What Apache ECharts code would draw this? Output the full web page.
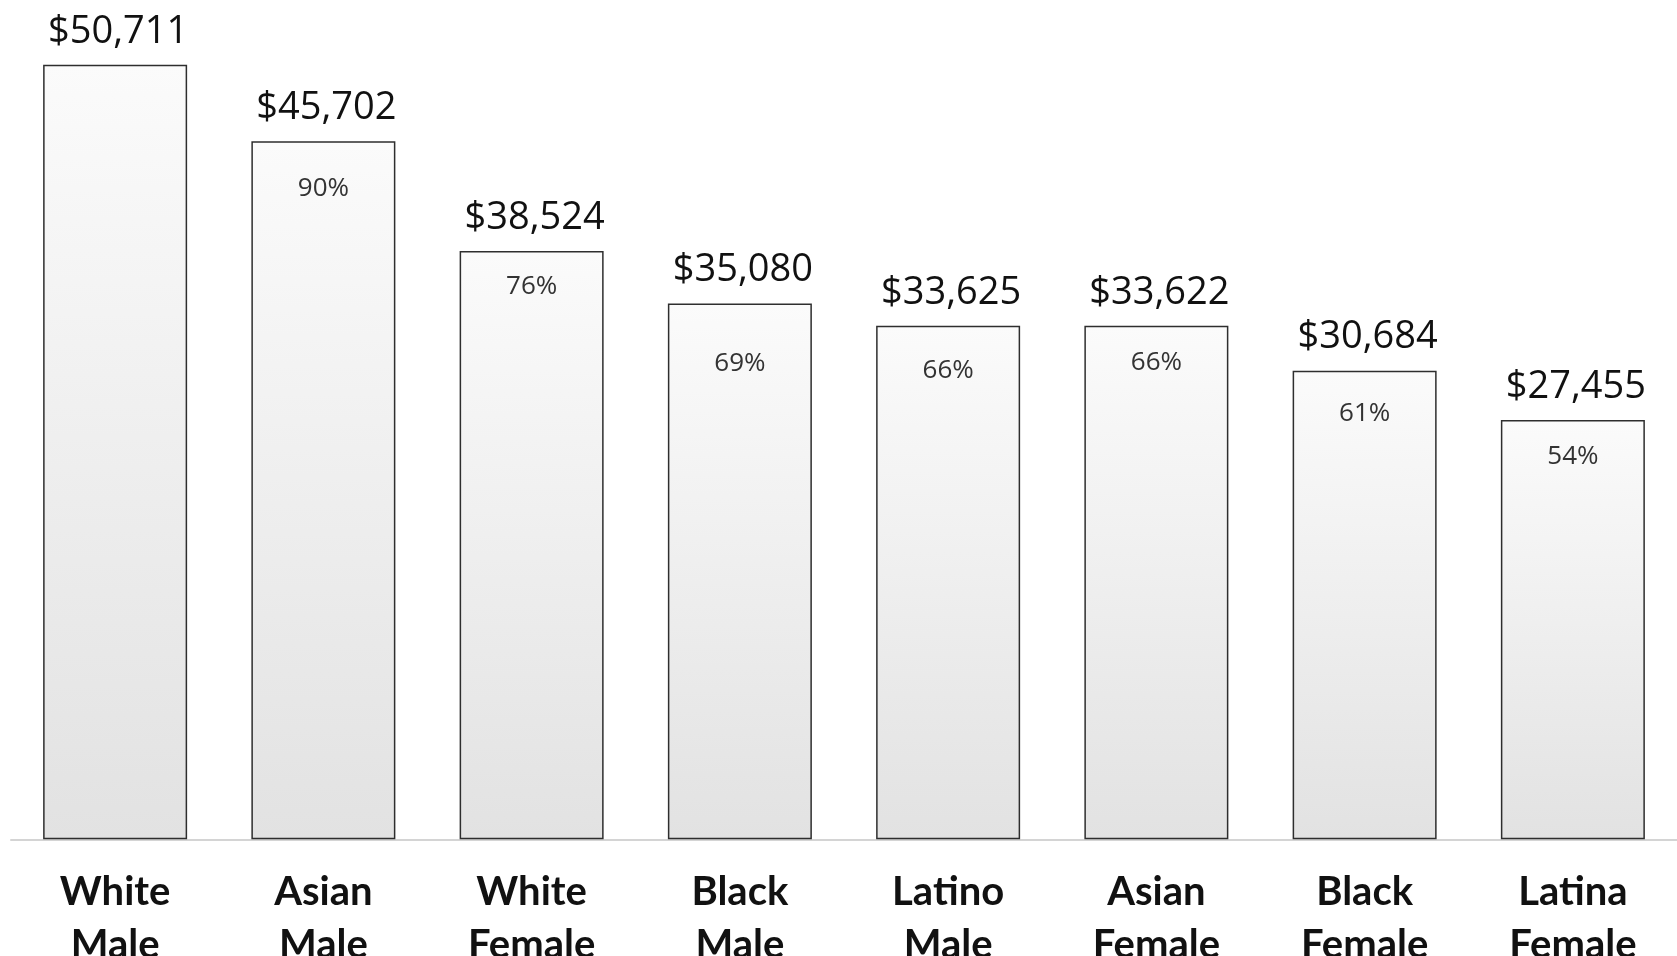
<!DOCTYPE html>
<html>
<head>
<meta charset="utf-8">
<style>
  html, body { margin: 0; padding: 0; background: #fff; }
  #chart { width: 1677px; height: 956px; }
</style>
<script src="https://cdn.jsdelivr.net/npm/echarts@6/dist/echarts.min.js"></script>
</head>
<body>
<div id="chart"></div>
<script>
// median earnings by group
var categories = ['White\nMale', 'Asian\nMale', 'White\nFemale', 'Black\nMale',
                  'Latino\nMale', 'Asian\nFemale', 'Black\nFemale', 'Latina\nFemale'];
var earnings = [50711, 45702, 38524, 35080, 33625, 33622, 30684, 27455];
// share of white male earnings, in percent (none for the first bar)
var shareOfWhiteMale = [null, 90, 76, 69, 66, 66, 61, 54];

// hand placed percent labels: distance from bar top (px)
var pctDy = [0, 34, 23, 47, 32, 24, 30, 24];

var myChart = echarts.init(document.getElementById('chart'));

var pctData = [];
for (var i = 0; i < earnings.length; i++) {
    pctData.push({
        value: earnings[i],
        label: { distance: pctDy[i] }
    });
}

var option = {
    backgroundColor: '#ffffff',
    animation: false,
    grid: { left: 11, right: 0, top: 14.5, bottom: 116.7, outerBoundsMode: 'none' },
    xAxis: {
        type: 'category',
        data: categories,
        axisLine: { lineStyle: { color: '#d4d4d4', width: 2 } },
        axisTick: { show: false },
        axisLabel: {
            margin: 26,
            interval: 0,
            fontFamily: 'Lato',
            fontWeight: 'bold',
            fontSize: 40,
            lineHeight: 53,
            color: '#111'
        }
    },
    yAxis: {
        type: 'value',
        min: 0,
        max: 54000,
        show: false,
        splitLine: { show: false }
    },
    series: [{
        type: 'bar',
        barWidth: 144,
        data: earnings,
        itemStyle: {
            color: new echarts.graphic.LinearGradient(0, 0, 0, 1, [
                { offset: 0, color: '#fbfbfb' },
                { offset: 1, color: '#e2e2e2' }
            ]),
            borderColor: '#2e2e2e',
            borderWidth: 1.5
        },
        label: {
            show: true,
            position: 'top',
            distance: 14,
            offset: [3, 0],
            fontFamily: 'Open Sans',
            fontSize: 38,
            color: '#111',
            formatter: function (p) {
                return '$' + p.value.toLocaleString('en-US');
            }
        }
    }, {
        type: 'bar',
        barWidth: 144,
        barGap: '-100%',
        data: pctData,
        silent: true,
        itemStyle: { color: 'rgba(0,0,0,0)' },
        label: {
            show: true,
            position: 'insideTop',
            fontFamily: 'Open Sans',
            fontSize: 26,
            color: '#333',
            formatter: function (p) {
                var v = shareOfWhiteMale[p.dataIndex];
                return v == null ? '' : v + '%';
            }
        }
    }]
};

myChart.setOption(option);
</script>
</body>
</html>
